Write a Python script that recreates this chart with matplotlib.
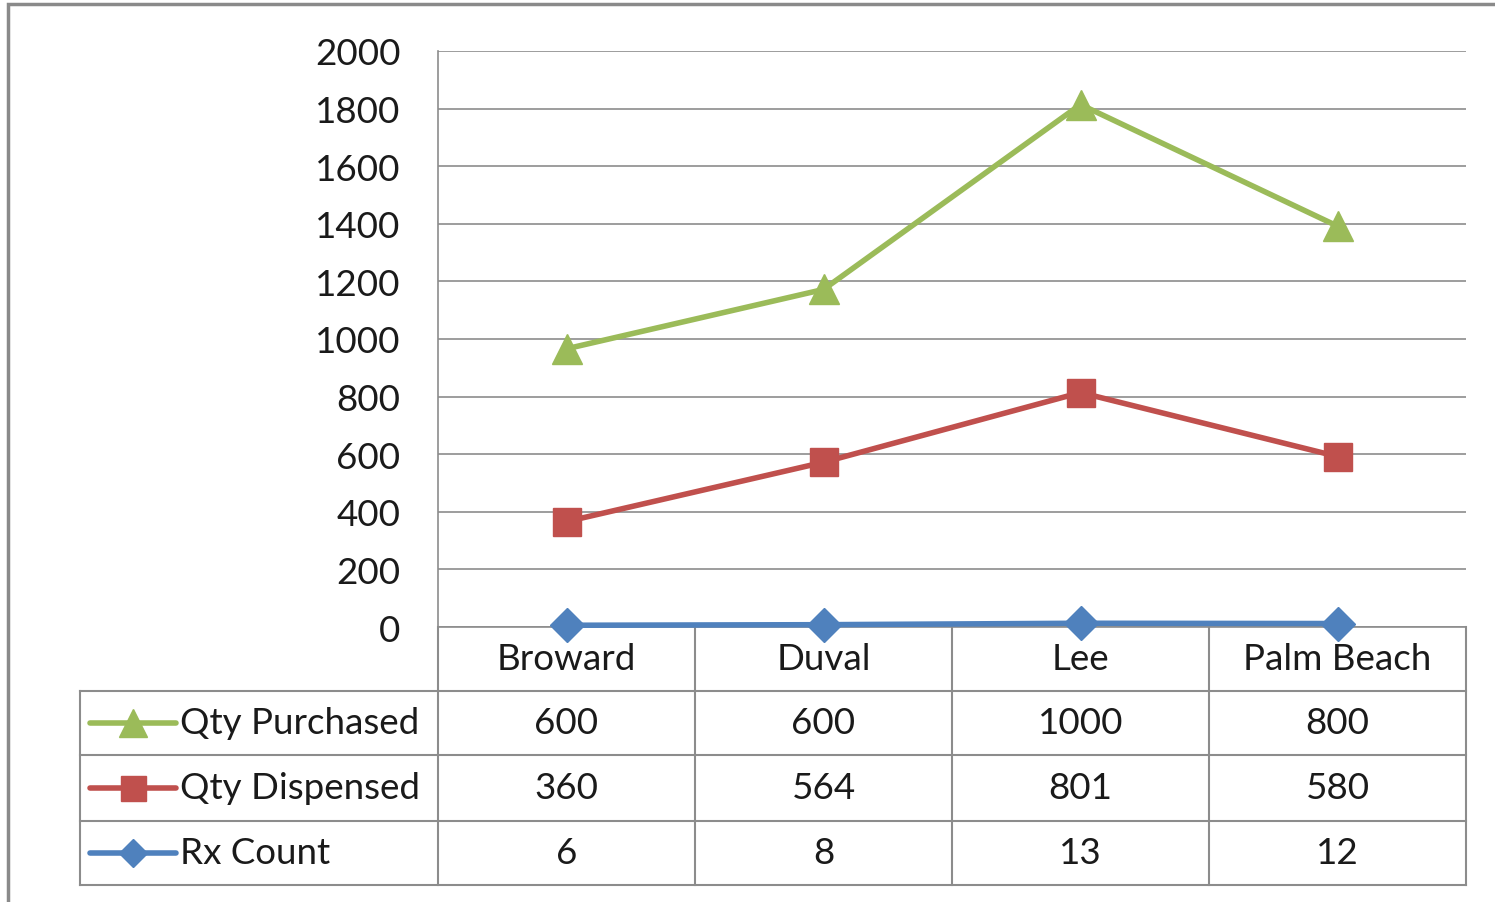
import numpy as np
import matplotlib
matplotlib.use("Agg")
import matplotlib.pyplot as plt
from matplotlib.lines import Line2D
from matplotlib.patches import Rectangle

plt.rcParams["font.family"] = ["Lato", "DejaVu Sans"]

counties = ["Broward", "Duval", "Lee", "Palm Beach"]
rx_count = [6, 8, 13, 12]
qty_dispensed = [360, 564, 801, 580]
qty_purchased = [600, 600, 1000, 800]
yticks = [0, 200, 400, 600, 800, 1000, 1200, 1400, 1600, 1800, 2000]

# stacked line chart (Excel style): each series sits on top of the previous
rx_top = np.array(rx_count, dtype=float)
disp_top = rx_top + np.array(qty_dispensed)
purch_top = disp_top + np.array(qty_purchased)

GREEN, RED, BLUE = "#9BBB59", "#C0504D", "#4F81BD"
GRID = "#8c8c8c"
W, H = 1495, 903
FS = 26.5

fig = plt.figure(figsize=(W / 100, H / 100), dpi=100)
fig.patches.append(Rectangle((8 / W, -0.1), 1.2, 1 - 5 / H + 0.1, transform=fig.transFigure,
                             fill=False, ec="#8a8a8a", lw=2.5))

ax = fig.add_axes([438 / W, (H - 628) / H, 1028 / W, 576 / H])
x = np.arange(len(counties))
ax.set_xlim(-0.5, len(counties) - 0.5)
ax.set_ylim(0, 2000)
ax.set_yticks(yticks)
ax.set_yticklabels([str(v) for v in yticks], fontsize=FS, color="#1a1a1a")
ax.tick_params(axis="y", length=0, pad=27)
ax.set_xticks([])
ax.grid(axis="y", color=GRID, lw=1.2)
for s in ("top", "right"):
    ax.spines[s].set_visible(False)
for s in ("left", "bottom"):
    ax.spines[s].set_color(GRID)
    ax.spines[s].set_linewidth(1.2)

ax.plot(x, purch_top, color=GREEN, lw=4, marker="^", ms=22, clip_on=False, zorder=5)
ax.plot(x, disp_top, color=RED, lw=4, marker="s", ms=20, clip_on=False, zorder=5)
ax.plot(x, rx_top, color=BLUE, lw=4, marker="D", ms=17, clip_on=False, zorder=6)

# data table under the axis
tr = ax.get_xaxis_transform()
px = 1 / 576
rows = [0, -64 * px, -128 * px, -194 * px, -258 * px]
left = -0.5 - 358 / 257
line_kw = dict(color=GRID, lw=1.5, transform=tr, clip_on=False)
for y in rows[1:]:
    ax.add_line(Line2D([left, 3.5], [y, y], **line_kw))
ax.add_line(Line2D([left, left], [rows[1], rows[-1]], **line_kw))
for xv in np.arange(-0.5, 4.0, 1.0):
    ax.add_line(Line2D([xv, xv], [rows[0], rows[-1]], **line_kw))

for i, name in enumerate(counties):
    ax.text(i, (rows[0] + rows[1]) / 2, name, transform=tr, ha="center", va="center",
            fontsize=FS, color="#1a1a1a")

table_rows = [("Qty Purchased", qty_purchased, GREEN, "^", 20),
              ("Qty Dispensed", qty_dispensed, RED, "s", 18),
              ("Rx Count", rx_count, BLUE, "D", 14)]
for r, (label, vals, col, mk, ms) in enumerate(table_rows):
    yc = (rows[r + 1] + rows[r + 2]) / 2
    for i, v in enumerate(vals):
        ax.text(i, yc, str(v), transform=tr, ha="center", va="center",
                fontsize=FS, color="#1a1a1a")
    x0 = left + 10 / 257
    x1 = left + 96 / 257
    ax.add_line(Line2D([x0, x1], [yc, yc], color=col, lw=4, solid_capstyle="round",
                       transform=tr, clip_on=False))
    ax.add_line(Line2D([(x0 + x1) / 2], [yc], color=col, marker=mk, ms=ms, lw=0,
                       transform=tr, clip_on=False))
    ax.text(left + 100 / 257, yc, label, transform=tr, ha="left", va="center",
            fontsize=FS, color="#1a1a1a")

fig.savefig("out.png", dpi=100)
